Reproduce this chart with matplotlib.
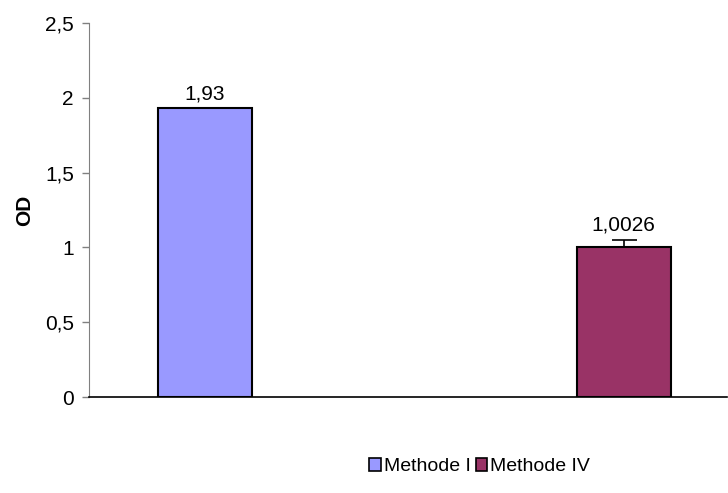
import matplotlib
matplotlib.use("Agg")
import matplotlib.pyplot as plt

plt.rcParams['font.family'] = ['Liberation Sans', 'DejaVu Sans']

# Data
methods = ["Methode I", "Methode IV"]
od_values = [1.93, 1.0026]
od_errors = [0.0, 0.05]
value_labels = ["1,93", "1,0026"]
colors = ["#9999FF", "#993366"]
y_ticks = [0, 0.5, 1, 1.5, 2, 2.5]
y_tick_labels = ["0", "0,5", "1", "1,5", "2", "2,5"]

FS = 15

fig = plt.figure(figsize=(7.28, 4.93), dpi=100)
ax = fig.add_axes([0.1223, 0.1947, 0.8763, 0.7586])

positions = list(range(len(methods)))
bars = []
for pos, val, err, col, name in zip(positions, od_values, od_errors, colors, methods):
    b = ax.bar(pos, val, width=0.2246, color=col, edgecolor="black",
               linewidth=1.5, label=name, zorder=2)
    bars.append(b)
    if err > 0:
        ax.errorbar(pos, val, yerr=[[0], [err]], fmt="none", ecolor="black",
                    elinewidth=1.2, capsize=9, capthick=1.2, zorder=3)

# value labels sit just above the bar (or its error cap)
for pos, val, err, txt in zip(positions, od_values, od_errors, value_labels):
    ax.annotate(txt, xy=(pos, val + err), xytext=(0, 6.5), textcoords="offset points",
                ha="center", va="baseline", fontsize=FS)

ax.set_xlim(-0.277, 1.247)
ax.set_ylim(0, 2.5)
ax.set_yticks(y_ticks)
ax.set_yticklabels(y_tick_labels, fontsize=FS)
ax.set_xticks([])
ax.tick_params(axis="y", direction="out", length=5, width=1, color="#808080", pad=6)

ax.spines["top"].set_visible(False)
ax.spines["right"].set_visible(False)
ax.spines["left"].set_color("#808080")
ax.spines["bottom"].set_color("black")
ax.spines["bottom"].set_linewidth(1.2)

ax.set_ylabel("OD", fontsize=FS, fontweight="bold", labelpad=8)

leg = fig.legend(handles=[b[0] for b in bars], labels=methods, loc="center",
                 bbox_to_anchor=(0.659, 0.053), ncol=2, frameon=False,
                 fontsize=14, handlelength=0.6, handleheight=0.6,
                 handletextpad=0.15, columnspacing=0.25)
for h in leg.legend_handles:
    h.set_linewidth(1.2)

fig.savefig("out.png", dpi=100)
